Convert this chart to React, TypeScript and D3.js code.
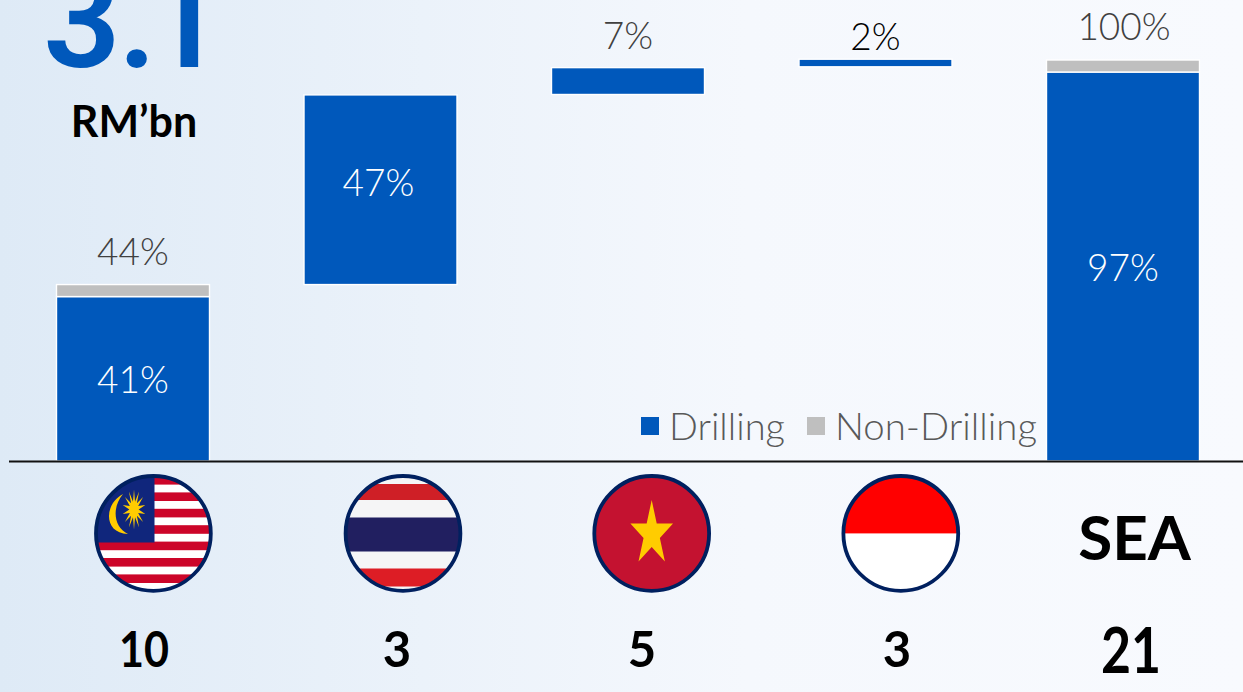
import React from "react";
import * as d3 from "d3";

const W = 1243, H = 692;
const categories = ["Malaysia", "Thailand", "Vietnam", "Indonesia", "SEA"];
const drilling = [41, 47.3, 6.7, 1.9, 97];
const nonDrilling = [3, 0, 0, 0, 3];
const offsets = [0, 44, 91.4, 98.3, 0];
const barLabels = ["41%", "47%", "", "", "97%"];
const topLabels = ["44%", "", "7%", "2%", "100%"];
const revenues = ["10", "3", "5", "3", "21"];
const barCentres = [133, 380.5, 628, 875.5, 1123];
const flagCentres = [153.4, 403, 651.7, 900.8];
const revenueCentres = [144, 397, 642, 897, 1131];
const malayStripes = [0, 1, 2, 3, 4, 5, 6, 7, 8, 9, 10, 11, 12, 13];
const FONT = "'Lato', 'Open Sans', sans-serif";

const y = d3.scaleLinear().domain([0, 100]).range([461, 60]);

function Star({ cx, cy, r }: { cx: number; cy: number; r: number }) {
  const pts = d3.range(10).map((i) => {
    const a = (i * Math.PI) / 5;
    const rr = i % 2 ? r * 0.382 : r;
    return [cx + rr * Math.sin(a) * 0.66, cy - rr * Math.cos(a)];
  });
  return <polygon points={pts.map((p) => p.join(",")).join(" ")} fill="#ffcc00" />;
}

function Sun({ cx, cy }: { cx: number; cy: number }) {
  const pts = d3.range(28).map((i) => {
    const a = (i * Math.PI) / 14;
    const rr = i % 2 ? 8 : 20;
    return [cx + rr * Math.sin(a) * 0.58, cy - rr * Math.cos(a)];
  });
  return <polygon points={pts.map((p) => p.join(",")).join(" ")} fill="#ffcc00" />;
}

function Flag({ cx, i }: { cx: number; i: number }) {
  const r = 57.4, cy = 533.4;
  const L = cx - r, T = cy - r, D = 2 * r;
  return (
    <g>
      <clipPath id={`flag${i}`}><circle cx={cx} cy={cy} r={r} /></clipPath>
      <g clipPath={`url(#flag${i})`}>
        {i === 0 && (
          <g>
            <rect x={L} y={T} width={D} height={D} fill="#fff" />
            {malayStripes.map((s) =>
              s % 2 === 0 ? (
                <rect key={s} x={L} y={T + (s * D) / 14} width={D} height={D / 14 + 0.4} fill="#cc0529" />
              ) : null
            )}
            <rect x={L} y={T} width={58.5} height={66.5} fill="#10267c" />
            <path d={`M${L + 27} ${T + 18} C${L + 8} ${T + 28} ${L + 7} ${T + 57} ${L + 32} ${T + 58} C${L + 17} ${T + 51} ${L + 16} ${T + 31} ${L + 27} ${T + 18}`} fill="#ffcc00" />
            <Sun cx={L + 38} cy={T + 33.5} />
          </g>
        )}
        {i === 1 && (
          <g>
            <rect x={L} y={T} width={D} height={D} fill="#f5f5f6" />
            <rect x={L} y={T + 8} width={D} height={16} fill="#cf1f26" />
            <rect x={L} y={T + 41.5} width={D} height={34} fill="#211f60" />
            <rect x={L} y={T + 92.5} width={D} height={18} fill="#dd1d25" />
          </g>
        )}
        {i === 2 && (
          <g>
            <rect x={L} y={T} width={D} height={D} fill="#c41230" />
            <Star cx={cx} cy={534} r={34} />
          </g>
        )}
        {i === 3 && (
          <g>
            <rect x={L} y={T} width={D} height={D} fill="#fff" />
            <rect x={L} y={T} width={D} height={r} fill="#ff0000" />
          </g>
        )}
      </g>
      <circle cx={cx} cy={cy} r={r} fill="none" stroke="#00205f" strokeWidth={3.8} />
    </g>
  );
}

export default function App() {
  return (
    <svg width={W} height={H} style={{ position: "fixed", left: 0, top: 0 }} fontFamily={FONT}>
      <defs>
        <linearGradient id="bg" x1="0" x2="1" y1="0" y2="0">
          <stop offset="0" stopColor="#deeaf6" />
          <stop offset="0.6" stopColor="#f5f8fd" />
          <stop offset="1" stopColor="#f8fafe" />
        </linearGradient>
      </defs>
      <rect width={W} height={H} fill="url(#bg)" />
      <text y={67} fontSize={136} fontWeight={600} fill="#0058bb" style={{ fontFamily: "Roboto" }} x="43 118 146">3.1</text>
      <text x={134} y={137} fontSize={43} fontWeight={700} textAnchor="middle" fill="#000">RM’bn</text>

      {categories.map((c, i) => {
        const cx = barCentres[i];
        const left = cx - 76.5;
        const base = offsets[i];
        const top = base + drilling[i];
        return (
          <g key={c}>
            <rect x={left} y={y(top)} width={153} height={y(base) - y(top)} fill="#0058bb" stroke="#fff" strokeWidth={1.4} />
            {nonDrilling[i] > 0 && (
              <rect x={left} y={y(top + nonDrilling[i])} width={153} height={y(top) - y(top + nonDrilling[i])} fill="#bfbfbf" stroke="#fff" strokeWidth={1.4} />
            )}
            {barLabels[i] && (
              <text x={i === 1 ? cx - 2 : cx} y={(y(top) + y(base)) / 2 + (i === 1 ? 6 : 14)} textAnchor="middle" fontSize={37} fontWeight={300} fill="#fff">{barLabels[i]}</text>
            )}
            {topLabels[i] && (
              <text x={i === 4 ? cx + 1 : cx} y={y(top + nonDrilling[i]) - (i === 3 ? 9 : i === 2 ? 19 : 20)} textAnchor="middle" fontSize={37} fontWeight={300} fill={i === 3 ? "#000" : "#404040"}>{topLabels[i]}</text>
            )}
          </g>
        );
      })}

      <rect x={641} y={417} width={18} height={18} fill="#0058bb" />
      <text x={669} y={440} fontSize={38} fontWeight={300} fill="#595959" textLength={116} lengthAdjust="spacingAndGlyphs">Drilling</text>
      <rect x={807} y={417} width={18} height={18} fill="#bfbfbf" />
      <text x={835} y={440} fontSize={38} fontWeight={300} fill="#595959" textLength={202} lengthAdjust="spacingAndGlyphs">Non-Drilling</text>

      <line x1={9} x2={W} y1={461.5} y2={461.5} stroke="#111" strokeWidth={2} />

      {flagCentres.map((cx, i) => <Flag key={i} cx={cx} i={i} />)}
      <text x={1134.5} y={560} fontSize={62} fontWeight={700} textAnchor="middle" fill="#000">SEA</text>

      {revenues.map((v, i) => (
        <text key={i} x={revenueCentres[i]} y={i === 4 ? 673 : 667} fontSize={i === 4 ? 63 : 49} fontWeight={700} textAnchor="middle" fill="#000"
          textLength={i === 4 ? 60 : i === 0 ? 50 : undefined} lengthAdjust="spacingAndGlyphs">{v}</text>
      ))}
    </svg>
  );
}
